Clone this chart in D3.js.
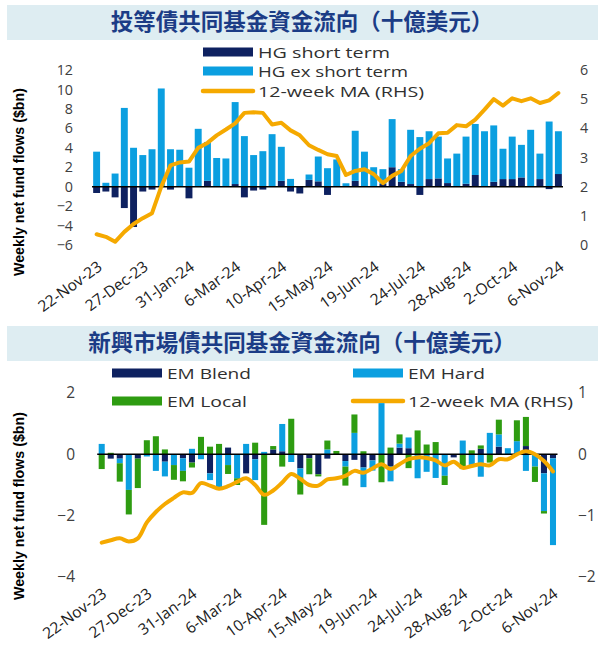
<!DOCTYPE html>
<html><head><meta charset="utf-8">
<script src="https://cdn.jsdelivr.net/npm/d3@7"></script>
<style>body{margin:0;background:#fff} text{font-family:"Open Sans",sans-serif}</style>
</head><body><svg id="c" width="607" height="650"></svg>
<script>
const dates = ["22-Nov-23","29-Nov-23","6-Dec-23","13-Dec-23","20-Dec-23","27-Dec-23","3-Jan-24","10-Jan-24","17-Jan-24","24-Jan-24","31-Jan-24","7-Feb-24","14-Feb-24","21-Feb-24","28-Feb-24","6-Mar-24","13-Mar-24","20-Mar-24","27-Mar-24","3-Apr-24","10-Apr-24","17-Apr-24","24-Apr-24","1-May-24","8-May-24","15-May-24","22-May-24","29-May-24","5-Jun-24","12-Jun-24","19-Jun-24","26-Jun-24","3-Jul-24","10-Jul-24","17-Jul-24","24-Jul-24","31-Jul-24","7-Aug-24","14-Aug-24","21-Aug-24","28-Aug-24","4-Sep-24","11-Sep-24","18-Sep-24","25-Sep-24","2-Oct-24","9-Oct-24","16-Oct-24","23-Oct-24","30-Oct-24","6-Nov-24"];
const tickLabels = ["22-Nov-23","27-Dec-23","31-Jan-24","6-Mar-24","10-Apr-24","15-May-24","19-Jun-24","24-Jul-24","28-Aug-24","2-Oct-24","6-Nov-24"];

// Chart 1: HG fund flows ($bn)
const hgShort = [-0.65,-0.5,-1.1,-2.2,-4.15,-0.5,-0.3,0.05,-0.3,0,-1.2,0,0.6,0,0,0.27,-1.1,-0.4,-0.3,0,0.6,-0.5,-0.7,0.7,0.55,-0.85,0,0.05,0.6,0,0,0.27,2.0,0.5,0.27,-0.85,0.78,0.85,0.37,0,0.3,1.2,0,0.5,0.78,0.78,0.95,0,0.78,-0.25,1.3];
const hgExShort = [3.6,0.4,1.35,8.1,4.0,3.25,3.85,10.05,3.85,3.8,1.95,5.95,4.0,2.95,2.9,8.43,5.2,3.25,3.65,5.4,3.5,0.8,0,0.55,2.55,1.9,2.8,0.3,5.15,3.6,2.0,1.53,4.95,1.3,5.58,5.1,4.92,4.3,2.53,3.4,4.85,5.25,5.7,5.8,3.12,4.37,3.35,5.85,2.62,6.7,4.4];
const hgMA = [0.37,0.28,0.11,0.45,0.72,0.92,1.09,2.0,2.73,2.83,2.86,3.33,3.5,3.76,3.96,4.17,4.53,4.55,4.53,4.13,4.19,3.93,3.76,3.42,3.26,3.11,3.05,2.4,2.54,2.6,2.43,2.12,2.37,2.54,3.05,3.3,3.49,3.83,3.85,4.11,4.07,4.3,4.64,5.0,4.78,5.03,4.93,5.03,4.87,4.96,5.21];
const hgLeftTicks = [12,10,8,6,4,2,0,-2,-4,-6];
const hgRightTicks = [6,5,4,3,2,1,0];

// Chart 2: EM fund flows ($bn)
const emBlend = [0,-0.14,-0.14,0,-0.14,0,0,-0.24,0,-0.13,-0.27,0,-0.62,0,0.22,0,-0.62,-0.16,0,0.16,0.1,0,-0.46,-0.13,-0.65,-0.14,0,-0.22,-0.18,-0.43,-0.2,0,-0.4,0.22,0.2,0,0,0,0,-0.1,0,0,0.18,0,0.25,0,0,0.27,0,-0.62,-0.13];
const emHard = [0.34,0,-0.15,-1.16,0,-0.07,-0.54,-0.48,-0.35,-0.41,0.18,-0.16,-0.22,-1.08,-0.35,-0.78,0.34,-0.68,0.08,0,0.89,-0.25,-0.29,0,0,0.16,0,-0.18,0.7,-0.64,-0.33,1.67,-0.48,0.13,0.35,-0.78,-0.57,-0.77,-0.7,0,0.45,-0.4,-0.73,0.7,0.4,0.2,0.43,-0.54,-0.4,-1.23,-2.83];
const emLocal = [-0.48,0.05,-0.6,-0.8,-0.96,0.46,0.59,0.16,-0.48,-0.34,-0.16,0.57,0.25,0.34,-0.29,-0.22,0,0.38,-2.3,0.11,-0.4,1.16,-0.56,-0.52,-0.07,0.29,0.11,-0.62,0.6,0.1,0,-0.91,0.22,0.3,-0.45,0.78,0.32,0.4,-0.3,0,-0.48,0.13,0.11,-0.27,0.48,0,0.68,0.95,-0.5,-0.08,0];
const emMA = [-1.44,-1.40,-1.37,-1.42,-1.37,-1.11,-0.94,-0.81,-0.71,-0.62,-0.63,-0.47,-0.51,-0.56,-0.52,-0.45,-0.39,-0.5,-0.66,-0.59,-0.46,-0.32,-0.40,-0.5,-0.51,-0.41,-0.39,-0.35,-0.27,-0.30,-0.23,-0.16,-0.24,-0.16,-0.08,-0.05,-0.06,-0.1,-0.18,-0.12,-0.22,-0.19,-0.16,-0.18,-0.08,-0.08,0,0.05,0,-0.11,-0.28];
const emLeftTicks = [2,0,-2,-4];
const emRightTicks = [1,0,-1,-2];

const C = {navy:"#0e2160", light:"#0b9fe0", green:"#2e9c11", orange:"#f5a900", txt:"#404040", title:"#1b3c86", band:"#deedf2"};
const svg = d3.select("#c");
const fmt = d3.format("d");

function titleBand(y0, y1, text){
  svg.append("rect").attr("x",7).attr("y",y0).attr("width",591).attr("height",y1-y0).attr("fill",C.band);
  svg.append("text").attr("x",302).attr("y",(y0+y1)/2+1).attr("text-anchor","middle").attr("dominant-baseline","middle")
    .style("font-family","'Noto Sans CJK TC'").style("font-weight","700").style("font-size","22.5px").attr("fill",C.title).text(text);
}

function panel(o){
  const x = d3.scaleBand().domain(dates).range(o.xr).paddingInner(o.pad).paddingOuter(o.pad/2);
  const yL = d3.scaleLinear().domain(o.ldom).range(o.yr);
  const yR = d3.scaleLinear().domain(o.rdom).range(o.yr);
  const rows = dates.map((d,i)=>{const r={date:d}; o.keys.forEach((k,j)=>r[k]=o.series[j][i]); return r;});
  const stack = d3.stack().keys(o.keys).offset(d3.stackOffsetDiverging)(rows);
  const g = svg.append("g");
  stack.forEach((s,j)=>{
    g.append("g").selectAll("rect").data(s).join("rect")
      .attr("x",d=>x(d.data.date)).attr("width",x.bandwidth())
      .attr("y",d=>yL(Math.max(d[0],d[1]))).attr("height",d=>Math.abs(yL(d[0])-yL(d[1])))
      .attr("fill",o.colors[j]);
  });
  g.append("line").attr("x1",o.xr[0]).attr("x2",o.xr[1]).attr("y1",yL(0)).attr("y2",yL(0)).attr("stroke","#000").attr("stroke-width",1.5);
  const line = d3.line().x((d,i)=>x(dates[i])+x.bandwidth()/2).y(d=>yR(d)).curve(o.curve);
  g.append("path").datum(o.ma).attr("d",line).attr("fill","none").attr("stroke",C.orange).attr("stroke-width",4).attr("stroke-linejoin","round").attr("stroke-linecap","round");
  const aL = g.append("g").attr("transform",`translate(${o.lx},0)`).call(d3.axisLeft(yL).tickValues(o.lticks).tickFormat(fmt).tickSize(0).tickPadding(0));
  aL.select(".domain").remove();
  aL.selectAll("text").style("font-size",o.fs).style("font-family","'Open Sans'").attr("fill",C.txt);
  const aR = g.append("g").attr("transform",`translate(${o.rx},0)`).call(d3.axisRight(yR).tickValues(o.rticks).tickFormat(fmt).tickSize(0).tickPadding(0));
  aR.select(".domain").remove();
  aR.selectAll("text").style("font-size",o.fs).style("font-family","'Open Sans'").attr("fill",C.txt);
  const xa = g.append("g").attr("transform",`translate(0,${o.xy})`).call(d3.axisBottom(x).tickValues(tickLabels).tickSize(0).tickPadding(0));
  xa.select(".domain").remove();
  xa.selectAll("text").style("font-size","15.5px").style("font-family","'Open Sans'").attr("fill","#202020")
    .attr("text-anchor","end").attr("dy","0").attr("y",0).attr("x",0)
    .attr("transform",`translate(${x.bandwidth()/2+3},0) rotate(-36)`);
  svg.append("text").attr("transform",`translate(${o.tx},${o.ty}) rotate(-90)`).attr("text-anchor","middle")
    .attr("textLength",188).attr("lengthAdjust","spacingAndGlyphs")
    .style("font-family","'Liberation Sans Narrow','Liberation Sans'").style("font-weight","700").style("font-size","15px").attr("fill","#000")
    .text("Weekly net fund flows ($bn)");
}

function legendItem(type, x, y, color, label, tl){
  if(type==="rect") svg.append("rect").attr("x",x).attr("y",y-4.5).attr("width",50).attr("height",9).attr("fill",color);
  else svg.append("line").attr("x1",x).attr("x2",x+50).attr("y1",y).attr("y2",y).attr("stroke",color).attr("stroke-width",4.5).attr("stroke-linecap","round");
  const t = svg.append("text").attr("x",x+55).attr("y",y+5.5).style("font-size","14px").attr("fill","#303030").text(label);
  if(tl) t.attr("textLength",tl).attr("lengthAdjust","spacingAndGlyphs");
}

titleBand(5,40,"投等債共同基金資金流向（十億美元）");
legendItem("rect",203,52,C.navy,"HG short term",132);
legendItem("rect",203,71,C.light,"HG ex short term",150);
legendItem("line",203,91,C.orange,"12-week MA (RHS)",166);
panel({keys:["s","e"],series:[hgShort,hgExShort],colors:[C.navy,C.light],ma:hgMA,
  xr:[92,563],pad:0.25,ldom:[-6,12],rdom:[0,6],yr:[245,70],lticks:hgLeftTicks,rticks:hgRightTicks,
  lx:73,rx:580,xy:269,tx:24,ty:182,curve:d3.curveLinear,fs:"14.3px"});

titleBand(326,361,"新興市場債共同基金資金流向（十億美元）");
legendItem("rect",112,373,C.navy,"EM Blend",84);
legendItem("rect",353,373,C.light,"EM Hard",77);
legendItem("rect",112,401,C.green,"EM Local",80);
legendItem("line",353,401,C.orange,"12-week MA (RHS)",165);
panel({keys:["b","h","l"],series:[emBlend,emHard,emLocal],colors:[C.navy,C.light,C.green],ma:emMA,
  xr:[97.2,557.5],pad:0.33,ldom:[-4,2],rdom:[-2,1],yr:[577,393],lticks:emLeftTicks,rticks:emRightTicks,
  lx:75,rx:578,xy:596,tx:24,ty:506,curve:d3.curveCatmullRom,fs:"15.5px"});
</script></body></html>
